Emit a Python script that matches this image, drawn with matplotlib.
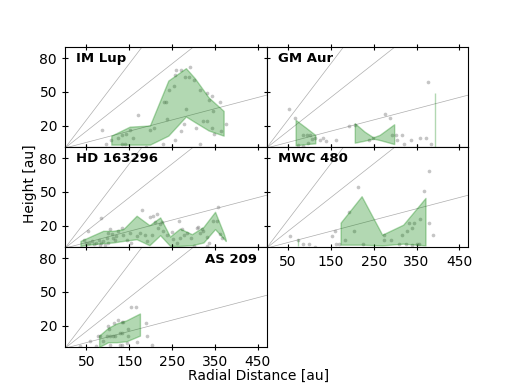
import numpy as np
import matplotlib
matplotlib.use("Agg")
import matplotlib.pyplot as plt

# ---- data (in au) ----
disks = ["IM Lup", "GM Aur", "HD 163296", "MWC 480", "AS 209"]

# emission surface envelopes (NaN separates pieces)
im_r = [108, 151, 198, 241, 282, 303, 335, 370]
im_up = [11, 19, 20, 60, 71, 62, 45, 33]
im_lo = [3, 3, 3, 11, 28, 23, 15.6, 11]

gm_r = [69, 92, 115, np.nan, 207, 230, 250, 265, 299, np.nan, 392]
gm_up = [24.6, 18, 11.2, np.nan, 21.6, 14.1, 9.1, 11.2, 20.7, np.nan, 49]
gm_lo = [2, 3, 3.7, np.nan, 4.3, 6.1, 7.9, 6.7, 3.1, np.nan, 1]

hd_r = [36, 66, 89, 112, 136, 167, 197, 222, 245, 268, 296, 323, 350, 370, 375]
hd_up = [6.4, 11.5, 15.4, 15.4, 16.9, 28.8, 20.4, 27.3, 10.3, 17.4, 12.4, 18.9, 32.3, 13.3, 7.3]
hd_lo = [2, 3.5, 4.4, 5, 6.4, 7.9, 2.6, 11.5, 2, 2, 2.6, 5, 16.9, 8.5, 6.4]

mwc_r = [74.5, np.nan, 174, 223, 271, 320, 372]
mwc_up = [7.9, np.nan, 22.2, 45.7, 11.5, 20.4, 44.2]
mwc_lo = [2, np.nan, 2.6, 2.6, 2.0, 3.5, 2.0]

as_r = [79.6, 100.7, 120.2, 143.6, 174.8]
as_up = [11.2, 18.1, 22, 24.9, 30.9]
as_lo = [1.1, 5.3, 5.3, 6.2, 11.2]

# individual pixel measurements
im_px = [87, 95, 108, 124, 134, 143, 151, 158, 171, 132, 140, 190, 198, 207, 229, 239, 231, 235,
         243, 254, 257, 260, 270, 280, 290, 292, 282, 278, 270, 257, 302, 315, 331, 342, 337, 362,
         346, 323, 332, 306, 342, 348, 363, 376, 315]
im_py = [15.6, 3.7, 6.7, 9.1, 11.2, 12.1, 15.6, 9.1, 29, 3.7, 3.7, 1.3, 15.6, 18, 3.7, 26, 40.9, 40.9,
         52, 54.9, 64.7, 69.2, 69.2, 63.2, 63.2, 72.2, 35, 21, 15, 6.7, 60.3, 52, 49, 46, 43, 41,
         32.6, 23.7, 23.7, 17.7, 17.7, 12.1, 15, 21, 3.7]

gm_px = [53, 67, 84, 94, 102, 112, 106, 96, 86, 73, 125, 131, 138, 163, 193, 207, 238, 248,
         277, 287, 293, 302, 315, 305, 320, 336, 357, 372, 377, 383]
gm_py = [35, 27, 11.2, 11.2, 11.2, 8.8, 8.2, 4.3, 2.2, 3.1, 6.7, 8.8, 6.1, 6.7, 19.2, 20.1, 6.7, 8.8,
         30, 27, 11.2, 11.2, 11.2, 6.7, 3.7, 6.7, 8.8, 8.8, 58.8, 3.7]

hd_px = [44, 50, 56, 62, 67, 73, 80, 85, 89, 97, 101, 105, 109, 112, 116, 120, 101, 93, 81, 54,
         85, 179, 198, 206, 214, 210, 222, 218, 202, 192, 167, 155, 144, 136, 132, 124, 151, 175,
         187, 226, 229, 237, 249, 265, 272, 278, 268, 284, 293, 307, 311, 319, 323, 315, 331, 335,
         346, 354, 358, 362, 366, 331, 300, 261, 253]
hd_py = [7.3, 4.3, 4.9, 6.4, 3.5, 4.9, 7.3, 4.3, 6.4, 9.4, 13.3, 17.4, 12.4, 9.4, 7.3, 10.9, 4.9,
         2.6, 2.6, 15.4, 26.4, 33.8, 27.9, 28.8, 30.2, 22.8, 21.3, 18.3, 11.5, 6.4, 10.9, 4.3, 7.3,
         11.5, 18.3, 15.4, 13.3, 13.3, 11.5, 22.8, 15.4, 11.5, 13.9, 24.3, 16.9, 11.5, 9.4, 13.3,
         9.4, 18.3, 18.9, 17.4, 15.4, 13.3, 10.3, 4.9, 24.3, 24.3, 36.2, 12.4, 9.4, 2, 2, 4.9, 7.9]

mwc_px = [55, 73, 86, 99, 113, 152, 160, 162, 170, 184, 193, 205, 213, 224, 273, 273, 291, 308,
          316, 328, 333, 340, 344, 326, 340, 351, 355, 359, 367, 379, 380, 388]
mwc_py = [10.9, 7.3, 4, 4, 1.1, 10.9, 14.8, 4, 4, 7.3, 32.3, 14.8, 54, 4, 11.5, 7.3, 7.3, 4,
          11.5, 14.8, 21.9, 18, 21.9, 4, 2.9, 4, 4, 25.8, 50.5, 21.9, 68.3, 11.5]

as_px = [34, 59, 77, 81, 89, 98, 101, 106, 112, 116, 103, 114, 124, 132, 136, 128, 132, 128, 132,
         105, 148, 148, 155, 165, 169, 190, 192, 202, 73, 144]
as_py = [1.7, 6.2, 11.2, 11.2, 6.2, 11.2, 20.2, 11.2, 11.2, 11.2, 17.5, 22, 25.5, 23.1, 23.1, 13.6,
         13.6, 3.2, 3.2, 3.2, 17.2, 11.2, 36.5, 36.5, 5.3, 22.5, 11.2, 3.2, 1.7, 4.7]

surfaces = [(im_r, im_up, im_lo), (gm_r, gm_up, gm_lo), (hd_r, hd_up, hd_lo),
            (mwc_r, mwc_up, mwc_lo), (as_r, as_up, as_lo)]
points = [(im_px, im_py), (gm_px, gm_py), (hd_px, hd_py), (mwc_px, mwc_py), (as_px, as_py)]

slopes = [0.1, 0.3, 0.5]  # z/r reference lines

fig, axes = plt.subplots(3, 2, figsize=(5.2, 3.9), dpi=100)
plt.subplots_adjust(hspace=0, wspace=0)
axes = axes.flatten()
axes[5].remove()

rr = np.array([0, 480])
for i, name in enumerate(disks):
    ax = axes[i]
    for s in slopes:
        ax.plot(rr, s * rr, color="0.6", lw=0.5, alpha=0.8, zorder=1)
    px, py = points[i]
    ax.scatter(px, py, s=7, color="0.5", alpha=0.45, lw=0, zorder=2)
    r, up, lo = surfaces[i]
    ax.fill_between(np.array(r, dtype=float), np.array(lo, dtype=float), np.array(up, dtype=float),
                    facecolor="green", edgecolor="green", alpha=0.3, lw=1.0, zorder=3)

    ax.set_xlim(0, 470)
    ax.set_ylim(1, 90)
    ax.set_xticks([50, 150, 250, 350, 450])
    ax.set_yticks([20, 50, 80])
    ax.tick_params(direction="inout", top=True, length=4.5, labelsize=10)
    if i % 2 == 1:
        ax.tick_params(labelleft=False)
    if i < 3:
        ax.tick_params(labelbottom=False)

    if name == "AS 209":
        ax.text(0.955, 0.88, name, transform=ax.transAxes, ha="right", va="center",
                fontsize=9.5, fontweight="bold")
    else:
        ax.text(0.055, 0.88, name, transform=ax.transAxes, ha="left", va="center",
                fontsize=9.5, fontweight="bold")

fig.text(0.498, 0.035, "Radial Distance [au]", ha="center", va="center", fontsize=10)
fig.text(0.058, 0.528, "Height [au]", ha="center", va="center", rotation=90, fontsize=10)

fig.savefig("out.png", dpi=100)
